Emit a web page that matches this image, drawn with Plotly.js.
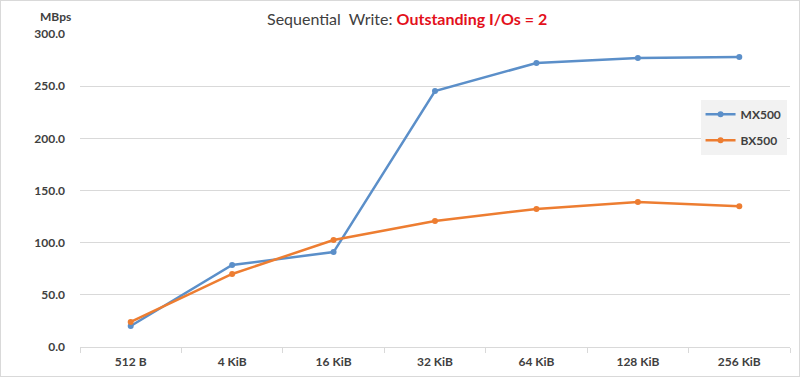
<!DOCTYPE html>
<html><head><meta charset="utf-8">
<script src="https://cdn.plot.ly/plotly-3.0.1.min.js"></script>
<style>html,body{margin:0;padding:0;background:#fff}#chart{width:800px;height:377px;box-sizing:border-box;border:1px solid #d9d9d9}</style>
</head><body><div id="chart"></div>
<script>
const categories = ["512 B","4 KiB","16 KiB","32 KiB","64 KiB","128 KiB","256 KiB"];
const mx500 = [20.1, 78.6, 91.0, 245.4, 272.2, 277.0, 278.0];
const bx500 = [24.0, 70.0, 102.5, 120.8, 132.3, 139.0, 135.0];
const yTicks = [0,50,100,150,200,250,300];
const yTickText = ["0.0","50.0","100.0","150.0","200.0","250.0","300.0"];

const font = {family:"Lato, 'Open Sans', sans-serif", color:"#404040"};
const traces = [
  {x:categories, y:mx500, name:"MX500", legendgroup:"a", type:"scatter", mode:"lines+markers",
   line:{color:"#5B8FC9", width:2.5}, marker:{color:"#5B8FC9", size:6}},
  {x:categories, y:bx500, name:"BX500", legendgroup:"b", type:"scatter", mode:"lines+markers",
   line:{color:"#ED7D31", width:2.5}, marker:{color:"#ED7D31", size:6}}
];
const layout = {
  width:798, height:375,
  margin:{l:79, r:9, t:33, b:29},
  paper_bgcolor:"#fff", plot_bgcolor:"#fff",
  font:font,
  showlegend:true,
  legend:{x:0.874, y:0.79, xanchor:"left", yanchor:"top", bgcolor:"#f2f2f2",
    font:{family:"Lato, sans-serif", size:12, color:"#404040", weight:"bold"},
    tracegroupgap:7, itemwidth:30},
  xaxis:{type:"category", range:[-0.5, 6.5], autorange:false, showgrid:false, zeroline:false, showline:true, linecolor:"#d9d9d9",
    ticks:"outside", tickson:"boundaries", ticklen:5, tickcolor:"#d9d9d9", ticklabelstandoff:4,
    tickfont:{family:"Lato, sans-serif", size:12, color:"#404040", weight:"bold"}, fixedrange:true},
  yaxis:{range:[0,300], tickvals:yTicks, ticktext:yTickText, showgrid:true, gridcolor:"#d9d9d9",
    zeroline:false, showline:false, ticks:"", ticklabelstandoff:14,
    tickfont:{family:"Lato, sans-serif", size:12, color:"#404040", weight:"bold"}, fixedrange:true},
  annotations:[
    {xref:"paper", yref:"paper", x:-0.034, y:1.057, xanchor:"center", yanchor:"middle", showarrow:false,
     text:"MBps", font:{family:"Lato, sans-serif", size:12, color:"#404040", weight:"bold"}},
    {xref:"paper", yref:"paper", x:0.46, y:1.05, xanchor:"center", yanchor:"middle", showarrow:false,
     text:"<span style='color:#404040'>Sequential  Write: </span><b style='color:#E3101B'>Outstanding I/Os = 2</b>",
     font:{family:"Lato, sans-serif", size:16, color:"#404040"}}
  ]
};
Plotly.newPlot("chart", traces, layout, {staticPlot:true});
</script></body></html>
